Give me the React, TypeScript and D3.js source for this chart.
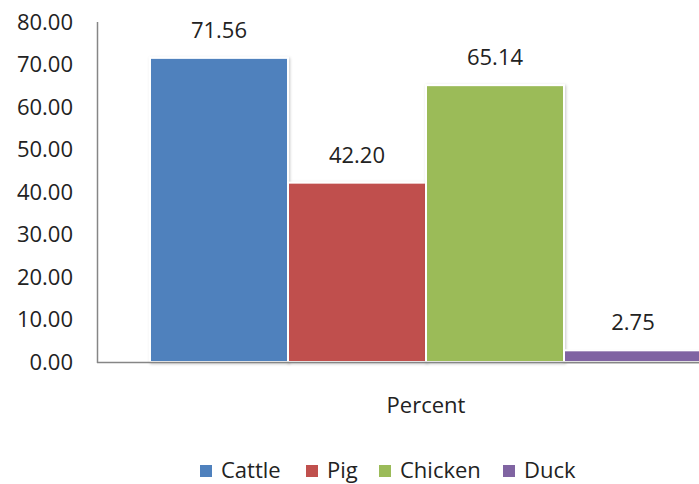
import React from "react";
import * as d3 from "d3";

const categories = ["Percent"];
const seriesNames = ["Cattle", "Pig", "Chicken", "Duck"];
const seriesValues = [71.56, 42.2, 65.14, 2.75];
const seriesColors = ["#4F81BD", "#C0504D", "#9BBB59", "#8064A2"];
const yTicks = [0, 10, 20, 30, 40, 50, 60, 70, 80];

const W = 699;
const H = 484;
const FONT = "'Open Sans', sans-serif";

export default function App() {
  const x0 = d3.scaleBand<string>().domain(categories).range([97, 755]).paddingInner(0).paddingOuter(0.096);
  const x1 = d3.scaleBand<string>().domain(seriesNames).range([0, x0.bandwidth()]).padding(0);
  const y = d3.scaleLinear().domain([0, 80]).range([362, 22]);

  const legendX = [200, 306, 379, 503];

  return (
    <svg width={W} height={H} style={{ position: "absolute", left: 0, top: 0 }} fontFamily={FONT}>
      <defs>
        <filter id="sh" x="-10%" y="-10%" width="120%" height="120%">
          <feDropShadow dx="1" dy="1" stdDeviation="1.5" floodColor="#000" floodOpacity="0.22" />
        </filter>
      </defs>
      <rect width={W} height={H} fill="#fff" />
      {yTicks.map((t) => (
        <text key={t} x={73} y={y(t)} dy="0.35em" textAnchor="end" fontSize={22} fill="#222">
          {t.toFixed(2)}
        </text>
      ))}
      {categories.map((c) => (
        <g key={c} transform={`translate(${x0(c)},0)`}>
          {seriesNames.map((s, i) => (
            <g key={s}>
              <rect
                x={x1(s)!}
                y={y(seriesValues[i])}
                width={x1.bandwidth()}
                height={y(0) - y(seriesValues[i])}
                fill={seriesColors[i]}
                stroke="#fff"
                strokeWidth={2}
                filter="url(#sh)"
              />
              <text
                x={x1(s)! + x1.bandwidth() / 2}
                y={y(seriesValues[i]) - 20}
                textAnchor="middle"
                fontSize={22}
                fill="#222"
              >
                {seriesValues[i].toFixed(2)}
              </text>
            </g>
          ))}
          <text x={x0.bandwidth() / 2} y={413} textAnchor="middle" fontSize={22} fill="#222">
            {c}
          </text>
        </g>
      ))}
      <line x1={97.5} x2={97.5} y1={22} y2={363} stroke="#868686" strokeWidth={1.5} />
      <line x1={97} x2={W} y1={362.5} y2={362.5} stroke="#868686" strokeWidth={1.5} />
      {seriesNames.map((s, i) => (
        <g key={s} transform={`translate(${legendX[i]},0)`}>
          <rect x={0} y={465} width={12} height={12} fill={seriesColors[i]} />
          <text x={21} y={478} fontSize={22} fill="#222">
            {s}
          </text>
        </g>
      ))}
    </svg>
  );
}
